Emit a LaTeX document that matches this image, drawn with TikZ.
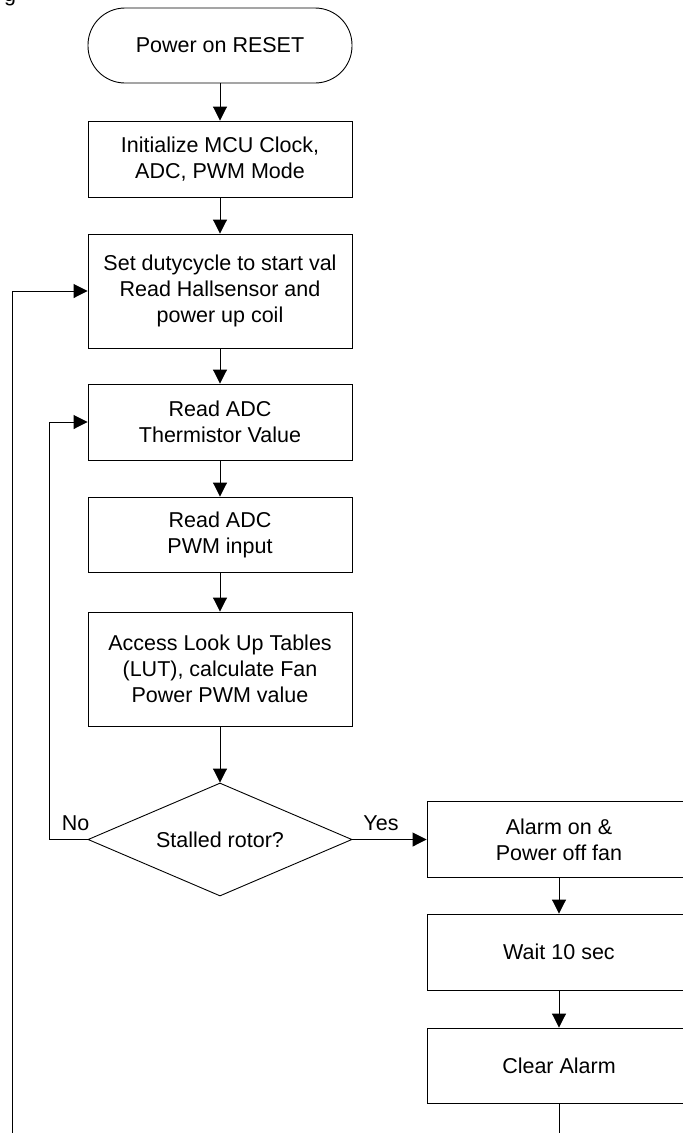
\documentclass[tikz,border=0pt]{standalone}
\usepackage{fontspec}
\setmainfont{Liberation Sans}
\usetikzlibrary{arrows.meta,shapes.geometric}
\begin{document}
\begin{tikzpicture}[x=1pt,y=-1pt,
  every node/.style={font=\fontsize{21.5}{26}\selectfont},
  box/.style={draw=black, line width=0.9pt, minimum width=264pt, align=center, inner sep=0pt},
  term/.style={box, rounded corners=37pt, minimum height=75pt},
  dec/.style={draw=black, line width=0.9pt, diamond, aspect=2.34, minimum width=264pt, minimum height=113pt, inner sep=0pt, align=center},
  flow/.style={draw=black, line width=0.9pt, -{Triangle[length=14pt,width=14pt]}},
  lbl/.style={inner sep=0pt}
]
\useasboundingbox (0,0) rectangle (683,1133);
\clip (0,0) rectangle (683,1133);
\node[lbl, anchor=base west] (frag) at (4,1.5) {g};
\node[term] (start) at (220,45.5) {Power on RESET};
\node[box, minimum height=76pt] (init) at (220,159) {Initialize MCU Clock,\\ADC, PWM Mode};
\node[box, minimum height=114pt] (duty) at (220,291) {Set dutycycle to start val\\Read Hallsensor and\\power up coil};
\node[box, minimum height=76pt] (rt) at (220,422) {Read ADC\\Thermistor Value};
\node[box, minimum height=75pt] (rp) at (220,534.5) {Read ADC\\PWM input};
\node[box, minimum height=114pt] (lut) at (220,669) {Access Look Up Tables\\(LUT), calculate Fan\\Power PWM value};
\node[dec] (stall) at (220,839.5) {Stalled rotor?};
\node[box, minimum height=76pt] (alarm) at (559,839.5) {Alarm on \&\\Power off fan};
\node[box, minimum height=76pt] (wait) at (559,952) {Wait 10 sec};
\node[box, minimum height=75pt] (clear) at (559,1065.5) {Clear Alarm};
\node[lbl] (no) at (75.5,823) {No};
\node[lbl] (yes) at (381,823) {Yes};
\coordinate (nocorner) at (49,839.5);
\coordinate (bot) at (559,1160);
\coordinate (botleft) at (12,1160);
\draw[flow] (start) -- (init);
\draw[flow] (init) -- (duty);
\draw[flow] (duty) -- (rt);
\draw[flow] (rt) -- (rp);
\draw[flow] (rp) -- (lut);
\draw[flow] (lut) -- (stall);
\draw[flow] (stall.east) -- (alarm.west);
\draw[flow] (alarm) -- (wait);
\draw[flow] (wait) -- (clear);
\draw[flow] (stall.west) -- (nocorner) |- (rt.west);
\draw[flow] (clear.south) -- (bot) -- (botleft) |- (duty.west);
\end{tikzpicture}
\end{document}
